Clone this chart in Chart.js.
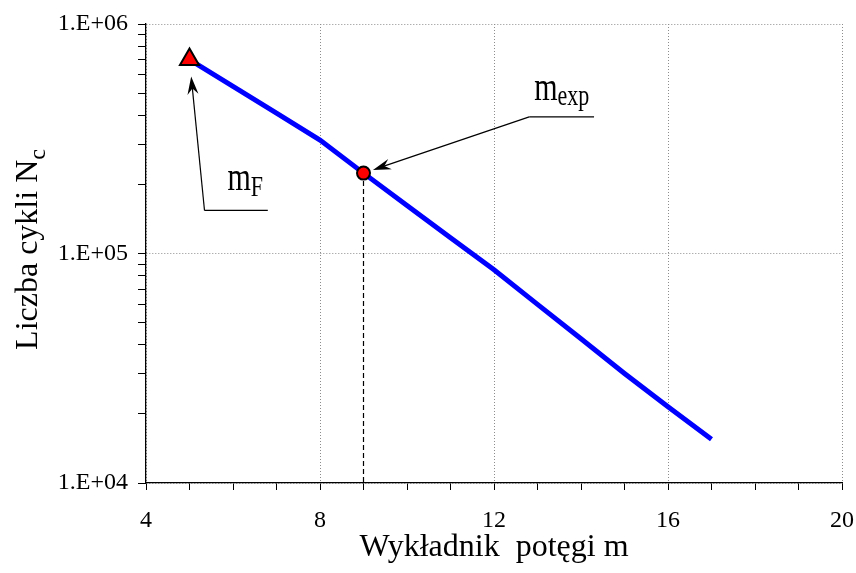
<!DOCTYPE html>
<html>
<head>
<meta charset="utf-8">
<script src="https://cdn.jsdelivr.net/npm/chart.js@4/dist/chart.umd.min.js"></script>
<style>
  html, body { margin: 0; padding: 0; background: #fff; }
</style>
</head>
<body>
<canvas id="chart" width="856" height="573"></canvas>
<script>
const exponents = [5, 6, 7, 8, 9, 10, 11, 12, 13, 14, 15, 16, 17];
const cycles = [7.0e5, 5.35e5, 4.09e5, 3.12e5, 2.24e5, 1.62e5, 1.17e5, 8.5e4, 6.0e4, 4.25e4, 3.0e4, 2.15e4, 1.55e4];
const mF = [5, 7.0e5];
const mExp = [9, 2.24e5];
const xLabelTicks = [4, 8, 12, 16, 20];
const yDecades = [1e4, 1e5, 1e6];
const yMinorSteps = [2, 3, 4, 5, 6, 7, 8, 9];

const FONT = '"Liberation Serif", "Times New Roman", serif';

// log ticks: every decade plus 2..9 inside it
const yTickValues = [];
yDecades.forEach((d, i) => {
  yTickValues.push(d);
  if (i < yDecades.length - 1) yMinorSteps.forEach(s => yTickValues.push(s * d));
});

// callout positions in data units (leader start/end), label offsets in px
const callouts = [
  { point: mF, tipGap: 17, leader: [5.345, 1.54e5, 6.80], label: 'm', sub: 'F', dx: 23, dy: -20 },
  { point: mExp, tipGap: 10, leader: [12.81, 3.94e5, 14.30], label: 'm', sub: 'exp', dx: 5, dy: -17 }
];

function drawSubText(ctx, x, y, main, sub, size, subSize, drop, stretch) {
  ctx.save();
  ctx.translate(x, y);
  ctx.scale(1, stretch);
  ctx.fillStyle = '#000';
  ctx.textBaseline = 'alphabetic';
  ctx.textAlign = 'left';
  ctx.font = size + 'px ' + FONT;
  ctx.fillText(main, 0, 0);
  const w = ctx.measureText(main).width;
  ctx.font = subSize + 'px ' + FONT;
  ctx.fillText(sub, w, drop / stretch);
  ctx.restore();
}

function drawArrow(ctx, fx, fy, tx, ty) {
  const len = Math.hypot(tx - fx, ty - fy);
  const ux = (tx - fx) / len, uy = (ty - fy) / len;
  ctx.save();
  ctx.strokeStyle = '#000';
  ctx.fillStyle = '#000';
  ctx.lineWidth = 1.2;
  ctx.beginPath();
  ctx.moveTo(fx, fy);
  ctx.lineTo(tx - ux * 10, ty - uy * 10);
  ctx.stroke();
  const bx = tx - ux * 18, by = ty - uy * 18;
  const nx = tx - ux * 12, ny = ty - uy * 12;
  ctx.beginPath();
  ctx.moveTo(tx, ty);
  ctx.lineTo(bx - uy * 5.5, by + ux * 5.5);
  ctx.lineTo(nx, ny);
  ctx.lineTo(bx + uy * 5.5, by - ux * 5.5);
  ctx.closePath();
  ctx.fill();
  ctx.restore();
}

const calloutPlugin = {
  id: 'callouts',
  afterDraw(chart) {
    const { ctx, scales: { x, y } } = chart;
    callouts.forEach(c => {
      const px = x.getPixelForValue(c.point[0]);
      const py = y.getPixelForValue(c.point[1]);
      const sx = x.getPixelForValue(c.leader[0]);
      const sy = y.getPixelForValue(c.leader[1]);
      const ex = x.getPixelForValue(c.leader[2]);
      ctx.save();
      ctx.strokeStyle = '#000';
      ctx.lineWidth = 1.3;
      ctx.beginPath();
      ctx.moveTo(sx, sy);
      ctx.lineTo(ex, sy);
      ctx.stroke();
      ctx.restore();
      const d = Math.hypot(sx - px, sy - py);
      const tx = px + (sx - px) / d * c.tipGap;
      const ty = py + (sy - py) / d * c.tipGap;
      drawArrow(ctx, sx, sy, tx, ty);
      drawSubText(ctx, sx + c.dx, sy + c.dy, c.label, c.sub, 30, 22, 5.5, 1.35);
    });

    // y axis title with subscript
    const main = 'Liczba cykli N';
    const sub = 'c';
    ctx.save();
    ctx.font = '32px ' + FONT;
    const w1 = ctx.measureText(main).width;
    ctx.font = '24px ' + FONT;
    const w2 = ctx.measureText(sub).width;
    const cy = (chart.chartArea.top + chart.chartArea.bottom) / 2 - 4;
    ctx.translate(37, cy);
    ctx.rotate(-Math.PI / 2);
    ctx.fillStyle = '#000';
    ctx.textBaseline = 'alphabetic';
    ctx.font = '32px ' + FONT;
    ctx.fillText(main, -(w1 + w2) / 2, 0);
    ctx.font = '24px ' + FONT;
    ctx.fillText(sub, -(w1 + w2) / 2 + w1, 8);
    ctx.restore();
  }
};

new Chart(document.getElementById('chart').getContext('2d'), {
  type: 'line',
  data: {
    datasets: [
      {
        label: 'mF',
        data: [{ x: mF[0], y: mF[1] }],
        showLine: false,
        pointStyle: 'triangle',
        pointRadius: 11,
        pointBackgroundColor: '#ff0000',
        pointBorderColor: '#000',
        pointBorderWidth: 2,
        order: 0
      },
      {
        label: 'mexp',
        data: [{ x: mExp[0], y: mExp[1] }],
        showLine: false,
        pointStyle: 'circle',
        pointRadius: 6.5,
        pointBackgroundColor: '#ff0000',
        pointBorderColor: '#000',
        pointBorderWidth: 2,
        order: 0
      },
      {
        label: 'Nc',
        data: exponents.map((m, i) => ({ x: m, y: cycles[i] })),
        borderColor: '#0000ff',
        borderWidth: 5,
        pointRadius: 0,
        tension: 0,
        order: 1
      },
      {
        label: 'drop',
        data: [{ x: mExp[0], y: mExp[1] }, { x: mExp[0], y: yDecades[0] }],
        borderColor: '#000',
        borderWidth: 1.2,
        borderDash: [5, 3],
        pointRadius: 0,
        order: 2
      }
    ]
  },
  options: {
    responsive: false,
    animation: false,
    events: [],
    layout: { padding: { top: 24, right: 14, left: 0, bottom: 0 } },
    plugins: {
      legend: { display: false },
      tooltip: { enabled: false }
    },
    scales: {
      x: {
        type: 'linear',
        min: 4,
        max: 20,
        afterFit: s => { s.height = 90; s.paddingLeft = 0; s.paddingRight = 0; },
        ticks: {
          stepSize: 1,
          autoSkip: false,
          maxRotation: 0,
          padding: 16,
          color: '#000',
          font: { family: FONT, size: 24 },
          callback: v => xLabelTicks.includes(v) ? String(v) : ''
        },
        grid: {
          color: c => (c.tick && xLabelTicks.includes(c.tick.value)) ? '#8c8c8c' : 'rgba(0,0,0,0)',
          tickColor: '#000',
          tickLength: 7,
          lineWidth: 1
        },
        border: { color: '#000', width: 1.3, dash: [1, 2] },
        title: {
          display: true,
          text: 'Wykładnik  potęgi m',
          color: '#000',
          font: { family: FONT, size: 32 },
          padding: { top: 0, bottom: 6 }
        }
      },
      y: {
        type: 'logarithmic',
        min: 1e4,
        max: 1e6,
        afterFit: s => { s.width = 146; s.paddingTop = 0; s.paddingBottom = 0; },
        afterBuildTicks: s => {
          s.ticks = yTickValues.map(v => ({ value: v, major: yDecades.includes(v) }));
        },
        ticks: {
          autoSkip: false,
          padding: 10,
          color: '#000',
          font: { family: FONT, size: 24 },
          callback: v => yDecades.includes(v)
            ? '1.E+' + String(Math.round(Math.log10(v))).padStart(2, '0')
            : ''
        },
        grid: {
          color: c => (c.tick && yDecades.includes(c.tick.value)) ? '#8c8c8c' : 'rgba(0,0,0,0)',
          tickColor: '#000',
          tickLength: 8,
          lineWidth: 1
        },
        border: { color: '#000', width: 1.3, dash: [1, 2] },
        title: { display: false }
      }
    }
  },
  plugins: [calloutPlugin]
});
</script>
</body>
</html>
